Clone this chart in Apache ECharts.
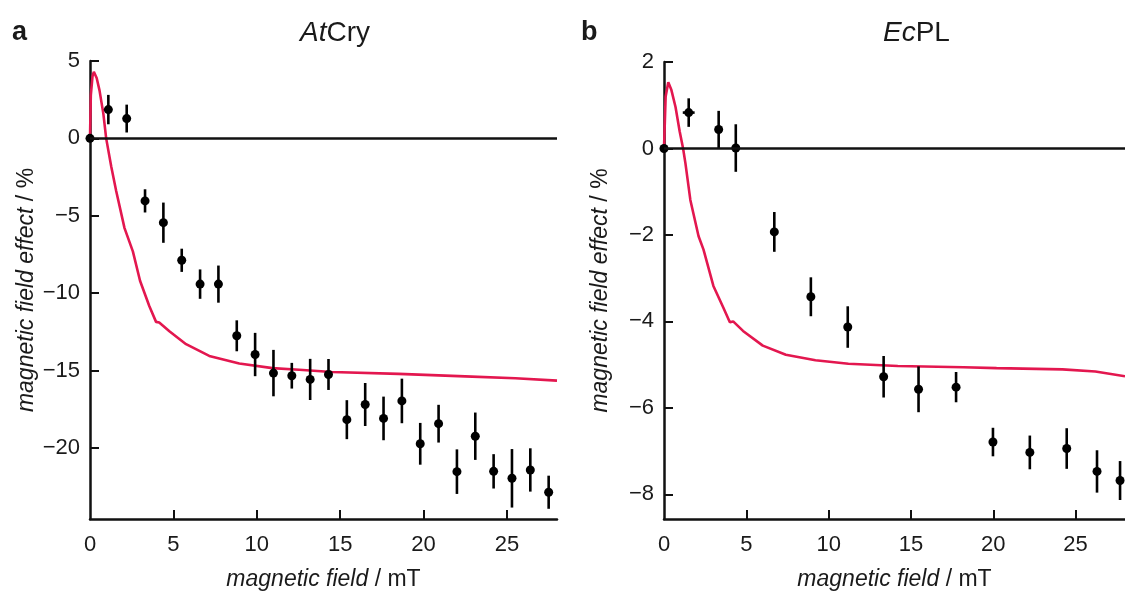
<!DOCTYPE html>
<html>
<head>
<meta charset="utf-8">
<script src="https://cdn.jsdelivr.net/npm/echarts@6/dist/echarts.min.js"></script>
<style>
  html, body { margin: 0; padding: 0; background: #fff; }
  #chart { width: 1125px; height: 596px; }
</style>
</head>
<body>
<div id="chart"></div>
<script>
// panel a: AtCry
const aField = [0, 1.1, 2.2, 3.3, 4.4, 5.5, 6.6, 7.7, 8.8, 9.9, 11.0, 12.1, 13.2, 14.3,
  15.4, 16.5, 17.6, 18.7, 19.8, 20.9, 22.0, 23.1, 24.2, 25.3, 26.4, 27.5];
const aEffect = [0, 1.86, 1.28, -4.04, -5.45, -7.88, -9.42, -9.42, -12.76, -13.97, -15.17, -15.34,
  -15.58, -15.26, -18.18, -17.2, -18.1, -16.97, -19.74, -18.44, -21.54, -19.25, -21.52, -21.97, -21.43, -22.87];
const aErr = [0, 0.95, 0.9, 0.75, 1.3, 0.75, 0.95, 1.2, 1.0, 1.4, 1.5, 0.83, 1.33, 1.0,
  1.26, 1.39, 1.41, 1.44, 1.35, 1.22, 1.44, 1.53, 1.11, 1.89, 1.4, 1.07];
const aFitField = [0, 0.05, 0.15, 0.23, 0.4, 0.57, 0.8, 0.97, 1.27, 1.57, 2.07, 2.57, 3.0, 3.56,
  3.96, 4.15, 4.76, 5.76, 7.15, 8.95, 10.94, 12.54, 14.5, 18.5, 22.5, 25.5, 28];
const aFitEffect = [0, 2.8, 4.0, 4.3, 3.9, 3.1, 1.6, 0, -1.8, -3.4, -5.8, -7.3, -9.2, -10.85,
  -11.86, -11.9, -12.46, -13.3, -14.06, -14.55, -14.85, -14.95, -15.1, -15.22, -15.38, -15.5, -15.66];

// panel b: EcPL
const bField = [0, 1.5, 3.32, 4.36, 6.7, 8.92, 11.16, 13.34, 15.46, 17.74, 19.98, 22.22, 24.46, 26.3, 27.7];
const bEffect = [0, 0.83, 0.44, 0.01, -1.93, -3.43, -4.13, -5.28, -5.57, -5.52, -6.79, -7.03, -6.94, -7.47, -7.68];
const bErr = [0, 0.33, 0.43, 0.55, 0.46, 0.45, 0.48, 0.48, 0.53, 0.35, 0.33, 0.39, 0.47, 0.49, 0.45];
const bFieldErr = [0, 0.36, 0, 0, 0, 0, 0, 0, 0, 0, 0, 0, 0, 0, 0];
const bFitField = [0, 0.1, 0.26, 0.45, 0.7, 0.95, 1.16, 1.3, 1.6, 2.1, 2.4, 3.0, 3.6, 4.0, 4.2,
  4.8, 6.0, 7.4, 9.2, 11.2, 14.2, 18.2, 20.2, 24.2, 26.2, 28];
const bFitEffect = [0, 1.2, 1.53, 1.35, 0.96, 0.4, 0, -0.34, -1.19, -2.03, -2.34, -3.18, -3.68, -4.02, -4.0,
  -4.22, -4.56, -4.77, -4.9, -4.98, -5.03, -5.06, -5.08, -5.11, -5.16, -5.27];

// ticks
const xTicks = [5, 10, 15, 20, 25];
const xLabels = [0, 5, 10, 15, 20, 25];
const aYTicks = [5, 0, -5, -10, -15, -20];
const bYTicks = [2, 0, -2, -4, -6, -8];

const FONT = "'Liberation Sans', Arial, sans-serif";
const INK = '#111';
const TEXT = '#1a1a1a';
const RED = '#e3174f';

const chart = echarts.init(document.getElementById('chart'));

function minus(v) {
  return String(v).replace('-', '\u2212');
}

function xAxisFor(gridIndex) {
  return {
    gridIndex: gridIndex,
    type: 'value',
    min: 0,
    max: 28,
    name: '{i|magnetic field} / mT',
    nameLocation: 'middle',
    nameGap: 49,
    nameTextStyle: {
      fontFamily: FONT, fontSize: 23, color: TEXT,
      rich: { i: { fontFamily: FONT, fontSize: 23, fontStyle: 'italic', color: TEXT } }
    },
    axisLine: { onZero: false, lineStyle: { color: INK, width: 2.5 } },
    axisTick: { inside: true, length: 9, lineStyle: { color: INK, width: 2 }, customValues: xTicks },
    axisLabel: { margin: 15, fontFamily: FONT, fontSize: 22, color: TEXT, customValues: xLabels },
    splitLine: { show: false }
  };
}

function yAxisFor(gridIndex, min, max, ticks) {
  return {
    gridIndex: gridIndex,
    type: 'value',
    min: min,
    max: max,
    name: '{i|magnetic field effect} / %',
    nameLocation: 'middle',
    nameGap: 52,
    nameTextStyle: {
      fontFamily: FONT, fontSize: 23, color: TEXT,
      rich: { i: { fontFamily: FONT, fontSize: 23, fontStyle: 'italic', color: TEXT } }
    },
    axisLine: { onZero: false, lineStyle: { color: INK, width: 2.5 } },
    axisTick: { inside: true, length: 9, lineStyle: { color: INK, width: 2 }, customValues: ticks },
    axisLabel: {
      margin: 10, fontFamily: FONT, fontSize: 22, color: TEXT, customValues: ticks,
      formatter: minus
    },
    splitLine: { show: false }
  };
}

function errorBars(params, api) {
  const x = api.value(0);
  const y = api.value(1);
  const e = api.value(2);
  const ex = api.value(3);
  const children = [];
  const style = { stroke: '#000', lineWidth: 2.6 };
  if (e > 0) {
    const lo = api.coord([x, y - e]);
    const hi = api.coord([x, y + e]);
    children.push({ type: 'line', shape: { x1: lo[0], y1: lo[1], x2: hi[0], y2: hi[1] }, style: style });
  }
  if (ex > 0) {
    const l = api.coord([x - ex, y]);
    const r = api.coord([x + ex, y]);
    children.push({ type: 'line', shape: { x1: l[0], y1: l[1], x2: r[0], y2: r[1] }, style: style });
  }
  return { type: 'group', children: children };
}

const zeroLine = {
  silent: true,
  symbol: 'none',
  label: { show: false },
  lineStyle: { color: INK, width: 2.5, type: 'solid' },
  data: [{ yAxis: 0 }]
};

const aPoints = aField.map((x, i) => [x, aEffect[i]]);
const bPoints = bField.map((x, i) => [x, bEffect[i]]);
const aBars = aField.map((x, i) => [x, aEffect[i], aErr[i], 0]);
const bBars = bField.map((x, i) => [x, bEffect[i], bErr[i], bFieldErr[i]]);
const aFit = aFitField.map((x, i) => [x, aFitEffect[i]]);
const bFit = bFitField.map((x, i) => [x, bFitEffect[i]]);

const titleStyle = {
  fontFamily: FONT, fontSize: 28, fontWeight: 'normal', color: TEXT,
  rich: { i: { fontFamily: FONT, fontSize: 28, fontStyle: 'italic', color: TEXT } }
};

const option = {
  backgroundColor: '#fff',
  animation: false,
  title: [
    { text: 'a', left: 7, top: 14, textStyle: { fontFamily: FONT, fontSize: 27, fontWeight: 'bold', color: TEXT } },
    { text: '{i|At}Cry', left: 295, top: 14, textStyle: titleStyle },
    { text: 'b', left: 576, top: 14, textStyle: { fontFamily: FONT, fontSize: 27, fontWeight: 'bold', color: TEXT } },
    { text: '{i|Ec}PL', left: 878, top: 14, textStyle: titleStyle }
  ],
  grid: [
    { left: 90, top: 61, width: 467, height: 461 },
    { left: 664, top: 62, width: 467, height: 460 }
  ],
  xAxis: [xAxisFor(0), xAxisFor(1)],
  yAxis: [yAxisFor(0, -24.6, 5, aYTicks), yAxisFor(1, -8.57, 2, bYTicks)],
  series: [
    {
      type: 'line', xAxisIndex: 0, yAxisIndex: 0, data: aFit, showSymbol: false, z: 1,
      lineStyle: { color: RED, width: 2.6 }, silent: true
    },
    {
      type: 'custom', xAxisIndex: 0, yAxisIndex: 0, data: aBars, renderItem: errorBars,
      encode: { x: 0, y: 1 }, z: 3, silent: true
    },
    {
      type: 'scatter', xAxisIndex: 0, yAxisIndex: 0, data: aPoints, symbolSize: 9, z: 4,
      itemStyle: { color: '#000', opacity: 1 }, markLine: zeroLine
    },
    {
      type: 'line', xAxisIndex: 1, yAxisIndex: 1, data: bFit, showSymbol: false, z: 1,
      lineStyle: { color: RED, width: 2.6 }, silent: true
    },
    {
      type: 'custom', xAxisIndex: 1, yAxisIndex: 1, data: bBars, renderItem: errorBars,
      encode: { x: 0, y: 1 }, z: 3, silent: true
    },
    {
      type: 'scatter', xAxisIndex: 1, yAxisIndex: 1, data: bPoints, symbolSize: 9, z: 4,
      itemStyle: { color: '#000', opacity: 1 }, markLine: zeroLine
    }
  ]
};

chart.setOption(option);
</script>
</body>
</html>
